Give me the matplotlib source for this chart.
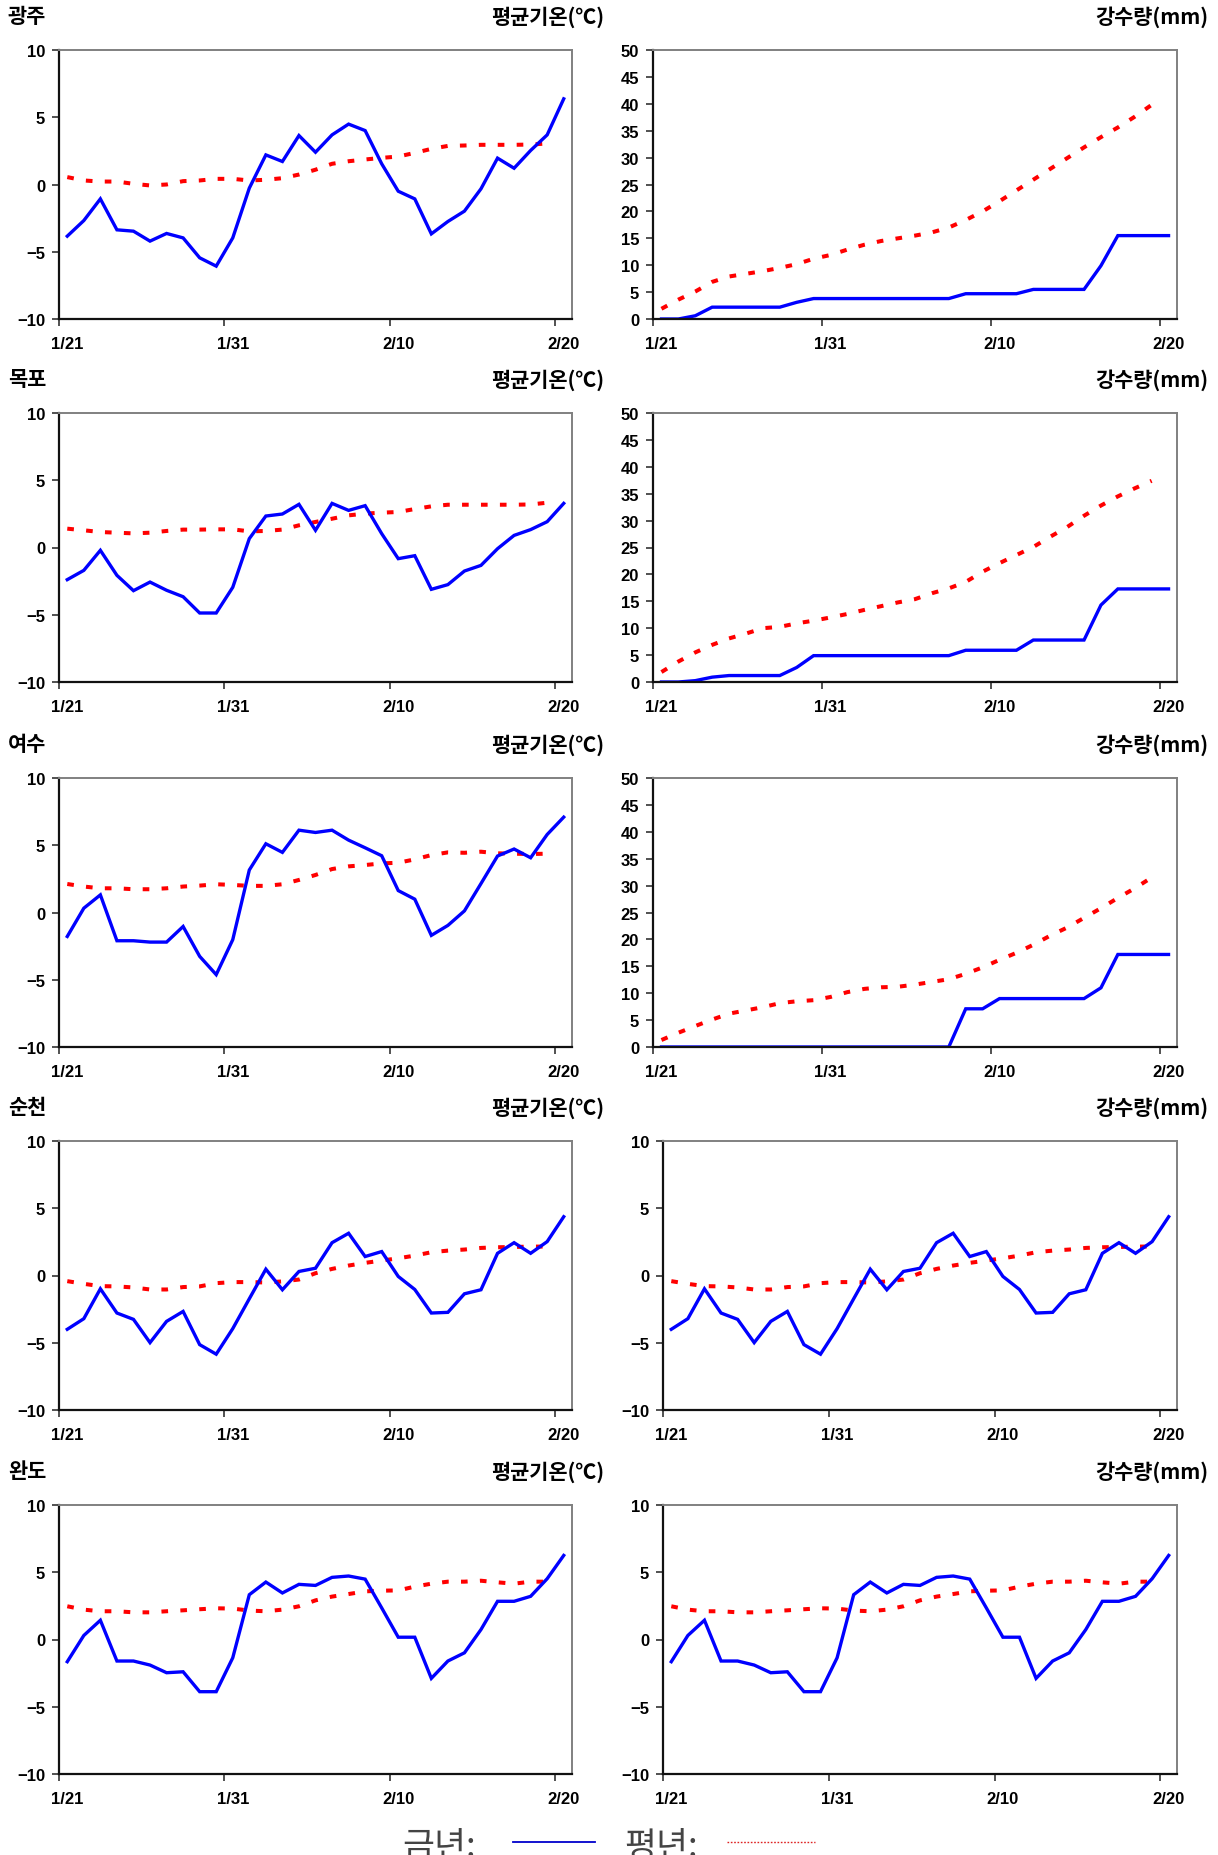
import matplotlib
matplotlib.use('Agg')
import matplotlib.pyplot as plt
from matplotlib.lines import Line2D

plt.rcParams['font.family'] = ['Liberation Sans', 'Noto Sans CJK KR', 'DejaVu Sans']

# ---------------- data ----------------
dates = ['1/21', '1/22', '1/23', '1/24', '1/25', '1/26', '1/27', '1/28', '1/29', '1/30',
         '1/31', '2/1', '2/2', '2/3', '2/4', '2/5', '2/6', '2/7', '2/8', '2/9',
         '2/10', '2/11', '2/12', '2/13', '2/14', '2/15', '2/16', '2/17', '2/18', '2/19', '2/20']
tick_labels = ['1/21', '1/31', '2/10', '2/20']
stations = ['광주', '목포', '여수', '순천', '완도']

temp_title = '평균기온(℃)'
prcp_title = '강수량(mm)'
legend_this = '금년:'
legend_norm = '평년:'

# 광주
gwangju_temp = [-3.84, -2.68, -1.07, -3.37, -3.47, -4.21, -3.64, -3.97, -5.45, -6.07,
                -3.97, -0.27, 2.2, 1.71, 3.64, 2.40, 3.69, 4.49, 4.01, 1.54,
                -0.5, -1.07, -3.67, -2.75, -1.98, -0.32, 1.96, 1.21, 2.53, 3.69, 6.37]
gwangju_temp_norm = [0.55, 0.3, 0.22, 0.22, 0.05, -0.07, 0.0, 0.25, 0.3, 0.42,
                     0.42, 0.3, 0.35, 0.47, 0.74, 1.1, 1.54, 1.73, 1.86, 1.98,
                     2.08, 2.35, 2.65, 2.87, 2.9, 2.95, 2.95, 2.95, 2.97, 3.05]
gwangju_prcp = [0, 0, 0.6, 2.2, 2.2, 2.2, 2.2, 2.2, 3.1, 3.8,
                3.8, 3.8, 3.8, 3.8, 3.8, 3.8, 3.8, 3.8, 4.7, 4.7,
                4.7, 4.7, 5.5, 5.5, 5.5, 5.5, 9.9, 15.5, 15.5, 15.5, 15.5]
gwangju_prcp_norm = [1.9, 3.6, 5.1, 6.9, 7.9, 8.4, 8.9, 9.5, 10.2, 11.2,
                     11.9, 12.9, 13.8, 14.5, 15.0, 15.5, 16.1, 17.0, 18.4, 20.0,
                     21.9, 23.9, 25.9, 27.9, 29.9, 31.9, 33.8, 35.6, 37.6, 39.8]

# 목포
mokpo_temp = [-2.39, -1.70, -0.21, -2.07, -3.21, -2.57, -3.18, -3.66, -4.87, -4.87,
              -2.96, 0.66, 2.34, 2.49, 3.21, 1.28, 3.28, 2.76, 3.11, 1.03,
              -0.83, -0.61, -3.11, -2.76, -1.75, -1.33, -0.09, 0.90, 1.33, 1.92, 3.28]
mokpo_temp_norm = [1.40, 1.28, 1.15, 1.1, 1.05, 1.1, 1.23, 1.33, 1.33, 1.35,
                   1.35, 1.2, 1.23, 1.33, 1.65, 1.9, 2.14, 2.39, 2.52, 2.59,
                   2.64, 2.86, 3.06, 3.18, 3.18, 3.18, 3.18, 3.18, 3.2, 3.33]
mokpo_prcp = [0, 0, 0.25, 0.9, 1.2, 1.2, 1.2, 1.2, 2.7, 4.9,
              4.9, 4.9, 4.9, 4.9, 4.9, 4.9, 4.9, 4.9, 5.9, 5.9,
              5.9, 5.9, 7.8, 7.8, 7.8, 7.8, 14.3, 17.3, 17.3, 17.3, 17.3]
mokpo_prcp_norm = [1.85, 3.8, 5.5, 6.9, 8.1, 9.0, 10.0, 10.25, 10.9, 11.4,
                   12.0, 12.65, 13.4, 14.1, 14.8, 15.4, 16.5, 17.4, 18.6, 20.5,
                   22.1, 23.6, 25.1, 27.0, 28.8, 30.9, 32.8, 34.5, 36.0, 37.4]

# 여수
yeosu_temp = [-1.78, 0.32, 1.31, -2.10, -2.10, -2.20, -2.20, -1.04, -3.26, -4.62,
              -2.02, 3.16, 5.11, 4.47, 6.12, 5.95, 6.12, 5.38, 4.81, 4.22,
              1.63, 0.99, -1.70, -0.96, 0.12, 2.15, 4.20, 4.72, 4.07, 5.8, 7.09]
yeosu_temp_norm = [2.12, 1.93, 1.80, 1.80, 1.73, 1.73, 1.80, 1.93, 2.0, 2.1,
                   2.05, 1.98, 1.98, 2.1, 2.42, 2.79, 3.23, 3.43, 3.53, 3.65,
                   3.70, 3.95, 4.27, 4.47, 4.44, 4.52, 4.40, 4.37, 4.35, 4.37]
yeosu_prcp = [0, 0, 0, 0, 0, 0, 0, 0, 0, 0,
              0, 0, 0, 0, 0, 0, 0, 0, 7.1, 7.1,
              9.0, 9.0, 9.0, 9.0, 9.0, 9.0, 11.0, 17.2, 17.2, 17.2, 17.2]
yeosu_prcp_norm = [1.3, 2.65, 3.9, 5.1, 6.2, 6.8, 7.4, 8.15, 8.5, 8.7,
                   9.3, 10.2, 10.8, 11.1, 11.2, 11.6, 12.1, 12.6, 13.6, 14.8,
                   16.2, 17.5, 19.0, 20.7, 22.2, 24.0, 25.8, 27.7, 29.5, 31.5]

# 순천
suncheon_temp = [-4.0, -3.21, -0.99, -2.79, -3.26, -4.99, -3.41, -2.67, -5.14, -5.85,
                 -3.95, -1.73, 0.47, -1.06, 0.30, 0.54, 2.44, 3.14, 1.41, 1.78,
                 -0.07, -1.04, -2.79, -2.74, -1.36, -1.06, 1.65, 2.44, 1.65, 2.52, 4.37]
suncheon_temp_norm = [-0.42, -0.62, -0.79, -0.81, -0.89, -1.04, -1.04, -0.86, -0.81, -0.57,
                      -0.49, -0.49, -0.52, -0.44, -0.30, 0.17, 0.49, 0.74, 0.94, 1.11,
                      1.28, 1.48, 1.73, 1.85, 1.93, 2.05, 2.10, 2.12, 2.15, 2.15]

# 완도
wando_temp = [-1.65, 0.30, 1.43, -1.60, -1.60, -1.90, -2.47, -2.40, -3.88, -3.88,
              -1.36, 3.33, 4.27, 3.46, 4.10, 4.02, 4.62, 4.72, 4.49, 2.35,
              0.17, 0.17, -2.89, -1.60, -0.99, 0.74, 2.84, 2.84, 3.21, 4.52, 6.25]
wando_temp_norm = [2.47, 2.22, 2.10, 2.10, 2.02, 2.02, 2.10, 2.17, 2.25, 2.32,
                   2.30, 2.15, 2.10, 2.22, 2.47, 2.91, 3.19, 3.38, 3.58, 3.63,
                   3.65, 3.93, 4.15, 4.30, 4.30, 4.37, 4.25, 4.15, 4.30, 4.30]

temp_ticks = [-10, -5, 0, 5, 10]
prcp_ticks = [0, 5, 10, 15, 20, 25, 30, 35, 40, 45, 50]

# right-hand panels as they appear in the original (last two repeat temperature)
rows = [
    (gwangju_temp, gwangju_temp_norm, gwangju_prcp, gwangju_prcp_norm, prcp_ticks),
    (mokpo_temp, mokpo_temp_norm, mokpo_prcp, mokpo_prcp_norm, prcp_ticks),
    (yeosu_temp, yeosu_temp_norm, yeosu_prcp, yeosu_prcp_norm, prcp_ticks),
    (suncheon_temp, suncheon_temp_norm, suncheon_temp, suncheon_temp_norm, temp_ticks),
    (wando_temp, wando_temp_norm, wando_temp, wando_temp_norm, temp_ticks),
]

# ---------------- layout ----------------
W, H = 1218, 1856
fig = plt.figure(figsize=(W / 100, H / 100), dpi=100)

row_tops = [51, 414, 779, 1142, 1506]
ax_h = 269
left_x = (59, 572)

BLUE = '#0000ff'
RED = '#ff0000'
tick_font = dict(family='Liberation Sans', weight='bold', size=12)
title_font = dict(family=['Noto Sans CJK KR', 'DejaVu Sans'], weight='bold', size=15)


def rect(x0, x1, top, h):
    return [x0 / W, 1 - (top + h) / H, (x1 - x0) / W, h / H]


def style_axes(ax, yticks):
    n = len(dates)
    ax.set_xlim(-0.5, n - 0.5)
    ax.set_ylim(yticks[0], yticks[-1])
    ax.set_xticks([dates.index(t) for t in tick_labels])
    ax.set_xticklabels(tick_labels, fontdict=tick_font)
    ax.set_xticks([dates.index(t) - 0.5 for t in tick_labels], minor=True)
    ax.tick_params(axis='x', which='major', length=0, pad=12)
    ax.tick_params(axis='x', which='minor', length=5, width=1.2, direction='out', color='#333333')
    ax.set_yticks(yticks)
    ax.set_yticklabels([str(v).replace('-', '\u2212') for v in yticks], fontdict=tick_font)
    ax.tick_params(axis='y', length=5, width=1.2, direction='out', pad=5, color='#333333')
    for s in ['left', 'bottom']:
        ax.spines[s].set_color('#111111')
        ax.spines[s].set_linewidth(1.6)
    for s in ['top', 'right']:
        ax.spines[s].set_color('#808080')
        ax.spines[s].set_linewidth(1.4)


def draw(ax, this_year, normal, yticks):
    ax.plot(range(len(normal)), normal, color=RED, lw=2.9,
            linestyle=(0, (1.65, 3.05)), dash_capstyle='butt')
    ax.plot(range(len(this_year)), this_year, color=BLUE, lw=2.4, solid_joinstyle='miter')
    style_axes(ax, yticks)


for r, (t, tn, p, pn, rticks) in enumerate(rows):
    top = row_tops[r]
    axl = fig.add_axes(rect(left_x[0], left_x[1], top, ax_h))
    draw(axl, t, tn, temp_ticks)
    rx0 = 653 if rticks is prcp_ticks else 663
    axr = fig.add_axes(rect(rx0, 1177, top, ax_h))
    draw(axr, p, pn, rticks)

    ytxt = 1 - (top - 45) / H
    fig.text(8 / W, ytxt, stations[r], ha='left', va='top', **title_font)
    fig.text(604 / W, ytxt, temp_title, ha='right', va='top', **title_font)
    fig.text(1208 / W, ytxt, prcp_title, ha='right', va='top', **title_font)

# ---------------- legend at bottom ----------------
leg_font = dict(family=['Noto Sans CJK KR', 'DejaVu Sans'], size=25, color='#444444')
fig.text(402 / W, 1 - 1830 / H, legend_this, ha='left', va='top', **leg_font)
fig.text(624 / W, 1 - 1830 / H, legend_norm, ha='left', va='top', **leg_font)
yl = 1 - 1843 / H
fig.add_artist(Line2D([513 / W, 595 / W], [yl, yl], color='#0000cc', lw=1.3, transform=fig.transFigure))
fig.add_artist(Line2D([727 / W, 815 / W], [yl, yl], color='#dd2222', lw=1.0,
                      linestyle=(0, (1.2, 1.2)), transform=fig.transFigure))

fig.savefig('out.png', dpi=100)
